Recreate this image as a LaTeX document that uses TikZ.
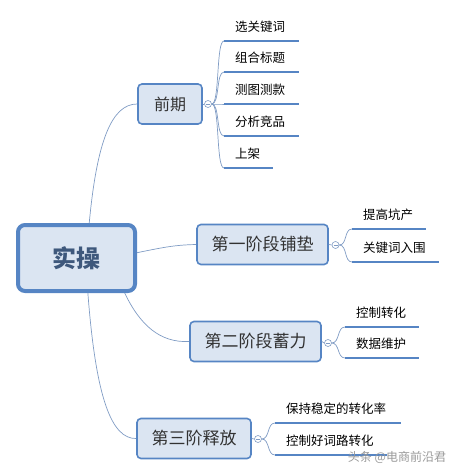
\documentclass[tikz,border=0pt]{standalone}
\usepackage{fontspec}
\newfontfamily\cjk{Noto Sans CJK SC}
\usetikzlibrary{positioning}

\begin{document}
\begin{tikzpicture}[x=1pt, y=-1pt,
    topic/.style={draw=my-edge, fill=my-fill, line width=1.6pt, rounded corners=4pt,
      minimum height=40pt, inner sep=0pt, text=my-dark},
    knob/.style={circle, draw=my-line, fill=white, line width=0.6pt, minimum size=7pt, inner sep=0pt,
      path picture={\draw[my-line, line width=0.6pt] ([xshift=-2pt]path picture bounding box.center) -- ([xshift=2pt]path picture bounding box.center);}},
    leaf/.style={anchor=south west, inner xsep=0pt, inner ysep=0pt, text depth=9pt, text height=10pt,
      font=\cjk\fontsize{12.5}{14}\selectfont, text=black, align=left},
    link/.style={draw=my-line, line width=0.7pt},
    rule/.style={draw=my-edge, line width=2.6pt}]
    \definecolor{my-edge}{RGB}{86,133,196}
    \definecolor{my-fill}{RGB}{219,229,242}
    \definecolor{my-line}{RGB}{128,156,196}
    \definecolor{my-dark}{RGB}{50,50,50}
    \definecolor{my-root}{RGB}{62,88,124}
    \useasboundingbox (0,0) rectangle (454,473);

    % main topics
    \node[topic, draw=my-edge, line width=4pt, rounded corners=7pt, minimum width=117pt, minimum height=66pt,
      font=\cjk\bfseries\fontsize{24}{26}\selectfont, text=my-root] (root) at (76.5,258) {实操};
    \node[topic, minimum width=64pt, font=\cjk\fontsize{16}{18}\selectfont] (qq) at (170,104) {前期};
    \node[topic, minimum width=131pt, font=\cjk\fontsize{17}{19}\selectfont] (s1) at (262.5,244.5) {第一阶段铺垫};
    \node[topic, minimum width=131pt, font=\cjk\fontsize{17}{19}\selectfont] (s2) at (255.5,341.5) {第二阶段蓄力};
    \node[topic, minimum width=114pt, font=\cjk\fontsize{17}{19}\selectfont] (s3) at (194,438.5) {第三阶释放};

    \node[knob] (qq-k) at (208,104) {};
    \node[knob] (s1-k) at (335.5,245) {};
    \node[knob] (s2-k) at (328,343) {};
    \node[knob] (s3-k) at (258,439) {};

    % leaves
    \node[leaf, text width=75pt] (qq1) at (224,41) {\hspace*{11pt}选关键词};
    \node[leaf, text width=75pt] (qq2) at (224,72) {\hspace*{11pt}组合标题};
    \node[leaf, text width=75pt] (qq3) at (224,104) {\hspace*{11pt}测图测款};
    \node[leaf, text width=75pt] (qq4) at (224,136) {\hspace*{11pt}分析竞品};
    \node[leaf, text width=49pt] (qq5) at (224,168) {\hspace*{11pt}上架};
    \node[leaf, text width=74pt] (s11) at (352,229) {\hspace*{11pt}提高坑产};
    \node[leaf, text width=87pt] (s12) at (352,262) {\hspace*{11pt}关键词入围};
    \node[leaf, text width=74pt] (s21) at (345,327) {\hspace*{11pt}控制转化};
    \node[leaf, text width=74pt] (s22) at (345,358) {\hspace*{11pt}数据维护};
    \node[leaf, text width=126pt] (s31) at (275,423) {\hspace*{11pt}保持稳定的转化率};
    \node[leaf, text width=112pt] (s32) at (275,455) {\hspace*{11pt}控制好词路转化};

    % root to topics
    \draw[link] (root.70) .. controls (97,140) and (112,104) .. (qq.west);
    \draw[link] (root.5) .. controls (165,247) and (175,245) .. (s1.west);
    \draw[link] (root.-36) .. controls (140,325) and (160,343) .. (s2.west);
    \draw[link] (root.-72) .. controls (96,400) and (112,439) .. (s3.west);

    % topics to knobs
    \draw[link] (qq.east) -- (qq-k.west);
    \draw[link] (s1.east) -- (s1-k.west);
    \draw[link] (s2.east) -- (s2-k.west);
    \draw[link] (s3.east) -- (s3-k.west);

    % knobs to leaves
    \foreach \k/\l in {qq/qq1, qq/qq2, qq/qq3, qq/qq4, qq/qq5, s1/s11, s1/s12, s2/s21, s2/s22, s3/s31, s3/s32}
      \draw[link] (\k-k.east) .. controls +(8,0) and +(-8,0) .. (\l.south west);

    % underlines
    \foreach \l in {qq1, qq2, qq3, qq4, qq5, s11, s12, s21, s22, s31, s32}
      \draw[rule] (\l.south west) -- (\l.south east);

    \node[font=\cjk\fontsize{12}{14}\selectfont, text=gray!80] (mark) at (397,457) {头条 @电商前沿君};
\end{tikzpicture}
\end{document}
